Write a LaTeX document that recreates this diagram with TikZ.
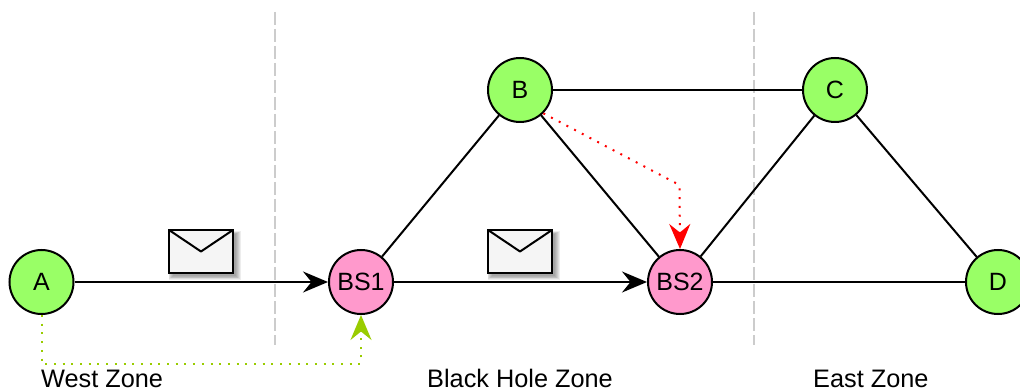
\documentclass[tikz,border=0pt]{standalone}
\usepackage{fontspec}
\setmainfont{Liberation Sans}
\usetikzlibrary{arrows.meta,calc,shadows}
\tikzset{
  x=1pt,y=-1pt,
  station/.style={circle,draw=black,line width=2pt,minimum size=64pt,inner sep=0pt,outer sep=1pt,font=\fontsize{25}{25}\selectfont,text=black},
  hostnode/.style={station,fill=hostgreen},
  basenode/.style={station,fill=basepink},
  link/.style={draw=black,line width=2pt},
  sent/.style={link,-{Stealth[length=25pt,width=21pt,inset=8.5pt]}},
  zoneline/.style={draw=zonegray,line width=2pt,dash pattern=on 12.6pt off 4.4pt},
  zonelabel/.style={anchor=base west,inner sep=0pt,font=\fontsize{25.3}{25.3}\selectfont,text=black},
  softshadow/.style={general shadow={fill=black,opacity=.07,shadow xshift=3.5pt,shadow yshift=-3.5pt,shadow scale=#1}},
  mail/.style={rectangle,draw=black,line width=2pt,fill=mailgray,minimum width=64pt,minimum height=43pt,inner sep=0pt,outer sep=0pt,
    softshadow=1.14,softshadow=1.11,softshadow=1.08,softshadow=1.05,softshadow=1.02,softshadow=.99},
  flap/.style={draw=black,line width=2pt,line join=round},
  greenpath/.style={draw=hintgreen,line width=2pt,dash pattern=on 2pt off 6.7pt,-{Stealth[length=25pt,width=21pt,inset=8.5pt,fill=hintgreen]}},
  redpath/.style={draw=red,line width=2pt,dash pattern=on 2pt off 6.7pt,rounded corners=3pt,-{Stealth[length=25pt,width=21pt,inset=8.5pt,fill=red]}},
}
\definecolor{hostgreen}{HTML}{99FF66}
\definecolor{basepink}{HTML}{FF99CC}
\definecolor{zonegray}{HTML}{CCCCCC}
\definecolor{mailgray}{HTML}{F5F5F5}
\definecolor{hintgreen}{HTML}{99CC00}
\begin{document}
\begin{tikzpicture}
\useasboundingbox (0,0) rectangle (1020,390);
\clip (0,0) rectangle (1020,390);
\coordinate (z1t) at (275,12);
\coordinate (z1b) at (275,345);
\coordinate (z2t) at (754,12);
\coordinate (z2b) at (754,345);
\draw[zoneline] (z1t) -- (z1b);
\draw[zoneline] (z2t) -- (z2b);

\node[hostnode] (A) at (41.5,282) {A};
\node[basenode] (BS1) at (361,282) {BS1};
\node[basenode] (BS2) at (680,282) {BS2};
\node[hostnode] (B) at (520,90) {B};
\node[hostnode] (C) at (835,90) {C};
\node[hostnode] (D) at (998,282) {D};

\draw[sent] (A) -- (BS1);
\draw[sent] (BS1) -- (BS2);
\draw[link] (BS1) -- (B);
\draw[link] (B) -- (BS2);
\draw[link] (B) -- (C);
\draw[link] (C) -- (BS2);
\draw[link] (C) -- (D);
\draw[link] (BS2) -- (D);

\coordinate (gb) at (41.5,363.5);
\coordinate (gc) at (361,363.5);
\draw[greenpath] (A.south) -- (gb) -- (gc) -- (BS1.south);
\coordinate (rc) at (679.5,185);
\draw[redpath] (B.-45) -- (rc) -- (BS2.north);

\node[mail] (m1) at (201,251.5) {};
\node[mail] (m2) at (520,251.5) {};
\draw[flap] (m1.north west) -- ($(m1.north)+(0,21.5)$) -- (m1.north east);
\draw[flap] (m2.north west) -- ($(m2.north)+(0,21.5)$) -- (m2.north east);

\node[zonelabel] (west) at (41,387) {West Zone};
\node[zonelabel] (hole) at (427,387) {Black Hole Zone};
\node[zonelabel] (east) at (813,387) {East Zone};
\end{tikzpicture}
\end{document}
